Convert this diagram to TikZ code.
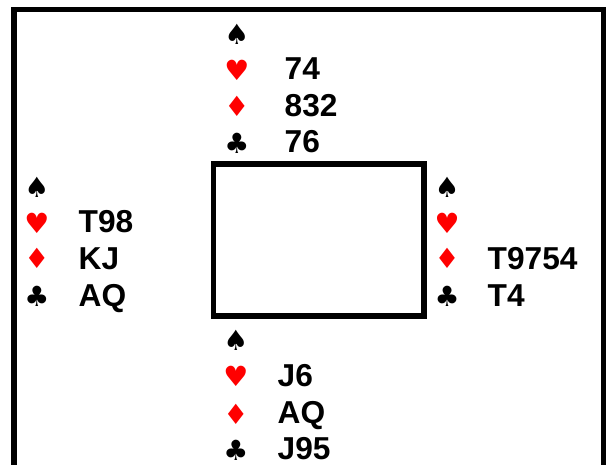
\documentclass[tikz,border=0pt]{standalone}
\usepackage{fontspec}
\setmainfont{Liberation Sans}
\newfontfamily\suitfont{DejaVu Sans}
\definecolor{suitred}{RGB}{255,0,0}
\begin{document}
\begin{tikzpicture}[x=1bp,y=-1bp,
  holding/.style={anchor=base west, font=\fontsize{31.8}{31.8}\selectfont\bfseries, inner sep=0pt},
  suitblack/.style={anchor=center, font=\suitfont\fontsize{28}{28}\selectfont, inner sep=0pt, text=black},
  suitred/.style={suitblack, text=suitred},
  frameline/.style={line width=5.5bp, line join=miter}]
\useasboundingbox (0,0) rectangle (606,465);
\begin{scope}
\clip (0,0) rectangle (606,465);
\coordinate (fbl) at (14,475);
\coordinate (ftl) at (14,9.7);
\coordinate (ftr) at (603.5,9.7);
\coordinate (fbr) at (603.5,475);
\draw[frameline] (fbl) -- (ftl) -- (ftr) -- (fbr);
\end{scope}
\node[draw, frameline, minimum width=210.5bp, minimum height=152bp, inner sep=0pt] (table) at (318.75,240) {};
% North
\node[suitblack] (ns) at (237,34) {♠};
\node[suitred] (nh) at (237,70.5) {♥};
\node[suitred] (nd) at (237,106.5) {♦};
\node[suitblack] (nc) at (237,143) {♣};
\node[holding] (nht) at (284.5,80) {74};
\node[holding] (ndt) at (284.5,116.5) {832};
\node[holding] (nct) at (284.5,153) {76};
% West
\node[suitblack] (ws) at (37,187) {♠};
\node[suitred] (wh) at (37,223) {♥};
\node[suitred] (wd) at (37,258.5) {♦};
\node[suitblack] (wc) at (37,296) {♣};
\node[holding] (wht) at (78.5,233) {T98};
\node[holding] (wdt) at (78.5,269.5) {KJ};
\node[holding] (wct) at (78.5,306) {AQ};
% East
\node[suitblack] (es) at (447,187) {♠};
\node[suitred] (eh) at (447,223) {♥};
\node[suitred] (ed) at (447,258.5) {♦};
\node[suitblack] (ec) at (447,296) {♣};
\node[holding] (edt) at (487.5,269.5) {T9754};
\node[holding] (ect) at (487.5,306) {T4};
% South
\node[suitblack] (ss) at (236,340) {♠};
\node[suitred] (sh) at (236,376) {♥};
\node[suitred] (sd) at (236,414) {♦};
\node[suitblack] (sc) at (236,450) {♣};
\node[holding] (sht) at (277.5,386) {J6};
\node[holding] (sdt) at (277.5,423) {AQ};
\node[holding] (sct) at (277.5,459) {J95};
\end{tikzpicture}
\end{document}
